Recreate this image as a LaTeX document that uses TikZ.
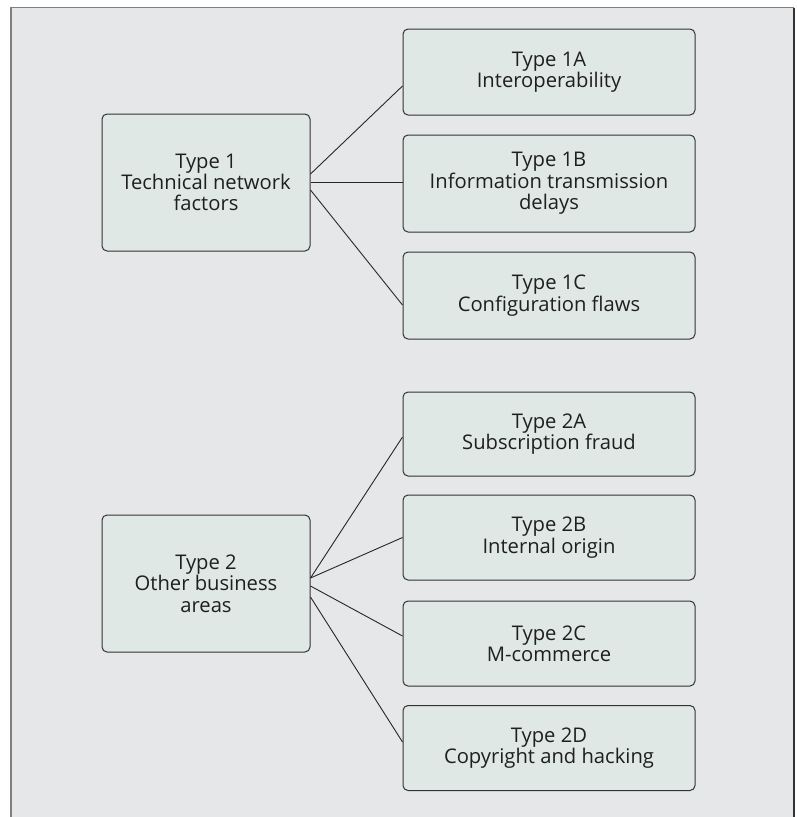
\documentclass[tikz,border=0pt]{standalone}
\usepackage{fontspec}
\setmainfont{Open Sans}
\usetikzlibrary{calc}

\definecolor{panelgray}{HTML}{E6E7E8}
\definecolor{boxfill}{HTML}{DFE8E5}
\definecolor{edgegray}{HTML}{333333}

\begin{document}
\begin{tikzpicture}[x=1pt,y=-1pt,
	box/.style={draw=edgegray,line width=1pt,rounded corners=5pt,fill=boxfill,align=center,
		font=\fontsize{20.2}{21.3}\selectfont,text=black!88,inner sep=0pt},
	parent/.style={box,minimum width=208pt,minimum height=137pt},
	child/.style={box,minimum width=292pt},
	line/.style={color=black!85,line width=0.9pt}]
		\useasboundingbox (0,0) rectangle (797,817);
		\fill[panelgray] (11,7.5) rectangle (794,817);
		\draw[black!50,line width=1.5pt] (11,817) -- (11,7.5) -- (794,7.5);
		\draw[black!80,line width=1.2pt] (794,7.5) -- (794,817);

		\node[parent] (t1) at (206,182.5) {Type 1\\Technical network\\factors};
		\node[parent] (t2) at (206,583.5) {Type 2\\Other business\\areas};

		\node[child,minimum height=86pt] (t1a) at (549,72) {Type 1A\\Interoperability};
		\node[child,minimum height=97pt] (t1b) at (549,183.5) {Type 1B\\Information transmission\\delays};
		\node[child,minimum height=87pt] (t1c) at (549,295.5) {Type 1C\\Configuration flaws};

		\node[child,minimum height=84pt] (t2a) at (549,434) {Type 2A\\Subscription fraud};
		\node[child,minimum height=85pt] (t2b) at (549,537.5) {Type 2B\\Internal origin};
		\node[child,minimum height=85pt] (t2c) at (549,643.5) {Type 2C\\M-commerce};
		\node[child,minimum height=85pt] (t2d) at (549,748) {Type 2D\\Copyright and hacking};

		%Type 1 lines
		\draw[line] ([yshift=8.5pt]t1.east) -- ([yshift=-14pt]t1a.west);
		\draw[line] (t1.east) -- (t1.east -| t1b.west);
		\draw[line] ([yshift=-7.5pt]t1.east) -- ([yshift=-9.5pt]t1c.west);

		%Type 2 lines
		\draw[line] ([yshift=5.5pt]t2.east) -- ([yshift=-3pt]t2a.west);
		\draw[line] ([yshift=5.5pt]t2.east) -- (t2b.west);
		\draw[line] ([yshift=-2.5pt]t2.east) -- ([yshift=7.5pt]t2c.west);
		\draw[line] ([yshift=-13.5pt]t2.east) -- ([yshift=6pt]t2d.west);
	\end{tikzpicture}
\end{document}
